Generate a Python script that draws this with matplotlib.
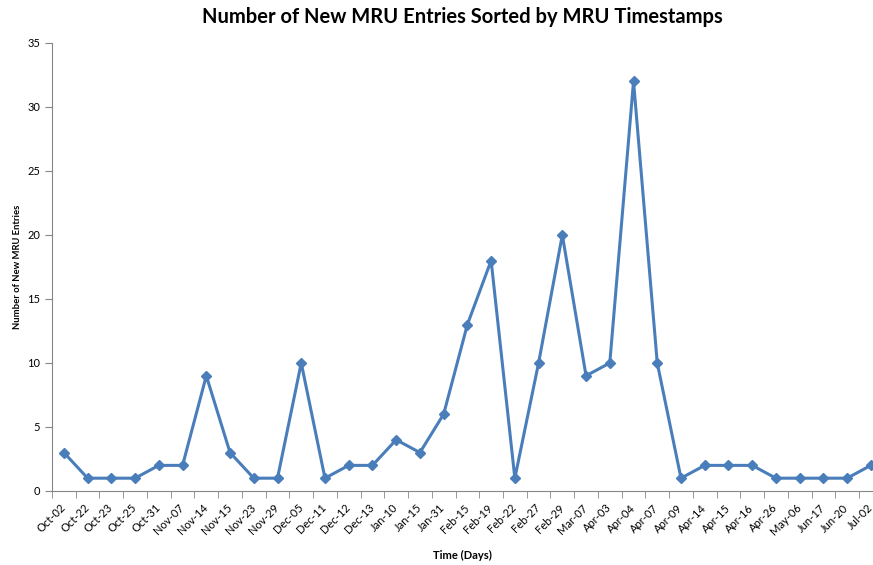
import numpy as np
import matplotlib.pyplot as plt
import matplotlib.transforms as mtransforms

# Dates of MRU timestamps and number of new entries per date
dates = ['Oct-02', 'Oct-22', 'Oct-23', 'Oct-25', 'Oct-31', 'Nov-07', 'Nov-14',
         'Nov-15', 'Nov-23', 'Nov-29', 'Dec-05', 'Dec-11', 'Dec-12', 'Dec-13',
         'Jan-10', 'Jan-15', 'Jan-31', 'Feb-15', 'Feb-19', 'Feb-22', 'Feb-27',
         'Feb-29', 'Mar-07', 'Apr-03', 'Apr-04', 'Apr-07', 'Apr-09', 'Apr-14',
         'Apr-15', 'Apr-16', 'Apr-26', 'May-06', 'Jun-17', 'Jun-20', 'Jul-02']
entries = [3, 1, 1, 1, 2, 2, 9, 3, 1, 1, 10, 1, 2, 2, 4, 3, 6, 13, 18, 1,
           10, 20, 9, 10, 32, 10, 1, 2, 2, 2, 1, 1, 1, 1, 2]

plt.rcParams['font.family'] = ['Lato', 'DejaVu Sans']

fig = plt.figure(figsize=(8.73, 5.65), dpi=100)
ax = fig.add_axes([0.0596, 0.131, 0.9404, 0.793])

x = np.arange(len(dates))
ax.plot(x, entries, color='#4A7EBB', linewidth=2.2, marker='D',
        markersize=5, markerfacecolor='#4A7EBB', markeredgecolor='#4A7EBB',
        clip_on=False, zorder=3)

ax.set_yticks(range(0, 36, 5))
ax.set_xticks(x)
ax.set_xticklabels(dates, rotation=45, ha='right', rotation_mode='anchor',
                   fontsize=8)
ax.set_xticks(np.arange(-0.5, len(dates), 1), minor=True)
ax.tick_params(axis='x', which='major', length=0, pad=8)
ax.tick_params(axis='x', which='minor', length=5, color='#868686')
ax.tick_params(axis='y', length=5, color='#868686', labelsize=8)
# set limits after ticks (the chart is cropped at the right edge)
ax.set_xlim(-0.5, 34.09)
ax.set_ylim(0, 35)

# nudge the rotated date labels a little to the left
shift = mtransforms.ScaledTranslation(-4 / 100, 0, fig.dpi_scale_trans)
for lab in ax.get_xticklabels():
    lab.set_transform(lab.get_transform() + shift)

for side in ['top', 'right']:
    ax.spines[side].set_visible(False)
for side in ['left', 'bottom']:
    ax.spines[side].set_color('#868686')

ax.set_title('Number of New MRU Entries Sorted by MRU Timestamps',
             fontsize=14.5, fontweight='bold', pad=14)
ax.set_xlabel('Time (Days)', fontsize=8, fontweight='bold', labelpad=9)
ax.set_ylabel('Number of New MRU Entries', fontsize=6.8, fontweight='bold',
              labelpad=4)

fig.savefig('out.png', dpi=100)
